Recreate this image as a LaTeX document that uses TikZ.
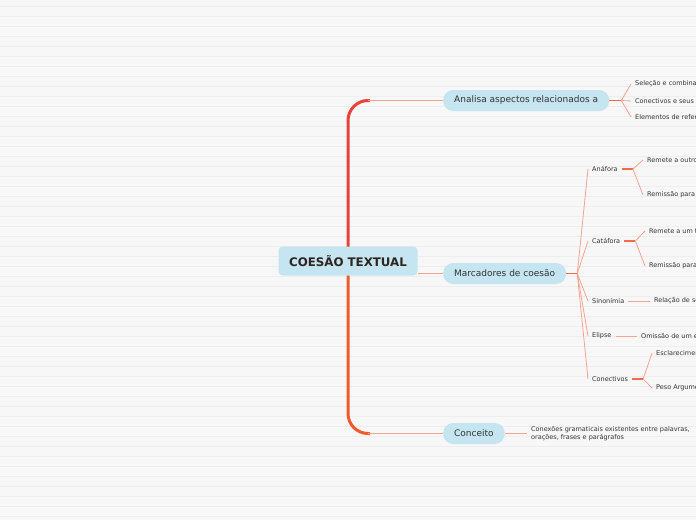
\documentclass[tikz,border=0pt]{standalone}
\usepackage{fontspec}
\setmainfont{DejaVu Sans}
\usetikzlibrary{positioning, calc, backgrounds}

\definecolor{paper}{HTML}{F7F7F7}
\definecolor{paperline}{HTML}{EEEEEE}
\definecolor{nodeblue}{HTML}{C5E5F0}
\definecolor{textdark}{HTML}{333333}
\definecolor{rootink}{HTML}{2E2420}
\definecolor{trunktop}{HTML}{E8433A}
\definecolor{trunkbot}{HTML}{EF5B2B}
\definecolor{linksoft}{HTML}{F4A490}
\definecolor{linkstub}{HTML}{F06A50}

\begin{document}
\begin{tikzpicture}[x=1pt, y=-1pt,
  root/.style={rectangle, fill=nodeblue, rounded corners=4pt, font=\fontsize{11.8}{13}\selectfont\bfseries, text=rootink, minimum width=139pt, minimum height=29pt, inner sep=0pt},
  topic/.style={rectangle, fill=nodeblue, rounded corners=10pt, anchor=west, font=\fontsize{9}{10}\selectfont, text=textdark, minimum height=21pt, inner xsep=11pt, inner ysep=0pt},
  sub/.style={anchor=west, font=\fontsize{6.5}{8}\selectfont, text=textdark, inner xsep=4pt, inner ysep=1pt},
  leaf/.style={anchor=west, align=left, font=\fontsize{6.5}{8}\selectfont, text=textdark, inner xsep=4pt, inner ysep=1pt},
  link/.style={draw=linksoft, line width=0.8pt},
  stub/.style={draw=linkstub, line width=1.2pt}]
  \useasboundingbox (0,0) rectangle (696,520);
  \begin{scope}[on background layer]
    \fill[paper] (0,0) rectangle (696,520);
    \foreach \y in {6,16,...,516}
      \draw[paperline, line width=1pt] (0,\y) -- (696,\y);
  \end{scope}

  \node[root] (root) at (348,261) {COESÃO TEXTUAL};
  \node[topic] (ana) at (443,100.5) {Analisa aspectos relacionados a};
  \node[topic] (mar) at (443,273.5) {Marcadores de coesão};
  \node[topic] (con) at (443,433.5) {Conceito};

  % trunk
  \begin{scope}[on background layer]
    \draw[trunktop, line width=3pt, rounded corners=20pt] (root.center) |- ([xshift=-73pt]ana.west);
    \draw[trunkbot, line width=3pt, rounded corners=20pt] (root.center) |- ([xshift=-73pt]con.west);
  \end{scope}
  \draw[link] ([xshift=-75pt]ana.west) -- (ana.west);
  \draw[link] ([xshift=-75pt]con.west) -- (con.west);
  \draw[link] (root.east |- mar.west) -- (mar.west);

  % Analisa aspectos
  \node[leaf] (a1) at (631,84) {Seleção e combinação};
  \node[leaf] (a2) at (631,101) {Conectivos e seus};
  \node[leaf] (a3) at (631,117) {Elementos de referência};
  \draw[stub] (ana.east) -- ++(12,0) coordinate (anahub);
  \foreach \n in {a1,a2,a3}
    \draw[link] (anahub) -- (\n.west);

  % Marcadores
  \node[sub] (anaf) at (588,169) {Anáfora};
  \node[sub] (cata) at (588,241) {Catáfora};
  \node[sub] (sino) at (588,301) {Sinonímia};
  \node[sub] (elip) at (588,336) {Elipse};
  \node[sub] (conv) at (588,379) {Conectivos};
  \draw[stub] (mar.east) -- ++(11,0) coordinate (marhub);
  \foreach \n in {anaf,cata,sino,elip,conv}
    \draw[link] (marhub) -- (\n.west);

  \node[leaf] (anaf1) at (643,160) {Remete a outro};
  \node[leaf] (anaf2) at (643,195) {Remissão para};
  \draw[stub] (anaf.east) -- ++(11,0) coordinate (anafhub);
  \draw[link] (anafhub) -- (anaf1.west);
  \draw[link] (anafhub) -- (anaf2.west);

  \node[leaf] (cata1) at (645,231) {Remete a um termo};
  \node[leaf] (cata2) at (645,266) {Remissão para};
  \draw[stub] (cata.east) -- ++(11,0) coordinate (catahub);
  \draw[link] (catahub) -- (cata1.west);
  \draw[link] (catahub) -- (cata2.west);

  \node[leaf] (sino1) at (650,301) {Relação de sentido};
  \draw[link] (sino.east) -- (sino1.west);

  \node[leaf] (elip1) at (637,336) {Omissão de um elemento};
  \draw[link] (elip.east) -- (elip1.west);

  \node[leaf] (conv1) at (652,353) {Esclarecimento};
  \node[leaf] (conv2) at (652,388) {Peso Argumentativo};
  \draw[stub] (conv.east) -- ++(11,0) coordinate (convhub);
  \draw[link] (convhub) -- (conv1.west);
  \draw[link] (convhub) -- (conv2.west);

  % Conceito
  \node[leaf] (def) at (527,433.5) {Conexões gramaticais existentes entre palavras,\\orações, frases e parágrafos};
  \draw[link] (con.east) -- (def.west);
\end{tikzpicture}
\end{document}
